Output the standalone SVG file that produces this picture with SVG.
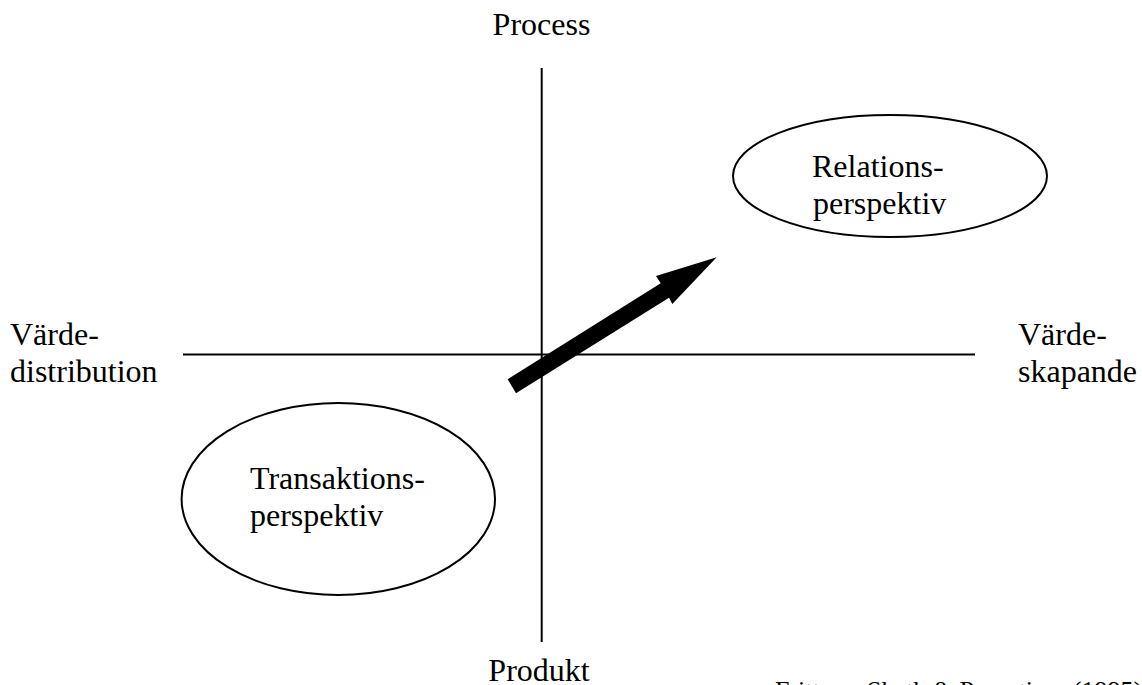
<svg xmlns="http://www.w3.org/2000/svg" width="1142" height="685" viewBox="0 0 1142 685">
<style>
text{font-family:"Liberation Serif","DejaVu Serif",serif;font-size:32px;fill:#000}
.src{font-size:26px}
.ell{fill:none;stroke:#000;stroke-width:2}
.axis{stroke:#000;stroke-width:2;fill:none}
</style>
<rect width="1142" height="685" fill="#fff"/>
<g id="connectors">
<line class="axis" x1="183" y1="354.5" x2="975" y2="354.5"/>
<line class="axis" x1="541.7" y1="68" x2="541.7" y2="642"/>
<polygon id="arrow" points="507.7,379.3 660.7,283.3 656,276 716.7,257.3 672.3,304 669,297.7 516,393.3" fill="#000"/>
</g>
<g id="label-process"><text x="541.5" y="35" text-anchor="middle">Process</text></g>
<g id="label-produkt"><text x="539" y="681" text-anchor="middle">Produkt</text></g>
<g id="label-vardedistribution"><text x="10" y="345">Värde-</text><text x="10" y="382">distribution</text></g>
<g id="label-vardeskapande"><text x="1018" y="345">Värde-</text><text x="1018" y="382">skapande</text></g>
<g id="node-relations">
<ellipse class="ell" cx="890" cy="176" rx="157" ry="61"/>
<text x="812" y="177">Relations-</text><text x="813" y="214">perspektiv</text>
</g>
<g id="node-transaktions">
<ellipse class="ell" cx="338.3" cy="499" rx="156.7" ry="96"/>
<text x="250" y="489">Transaktions-</text><text x="250" y="526">perspektiv</text>
</g>
<g id="source"><text class="src" x="775" y="699">Fritt</text><text class="src" x="867" y="699">Sheth &amp; Parvatiyar (1995)</text></g>
</svg>
